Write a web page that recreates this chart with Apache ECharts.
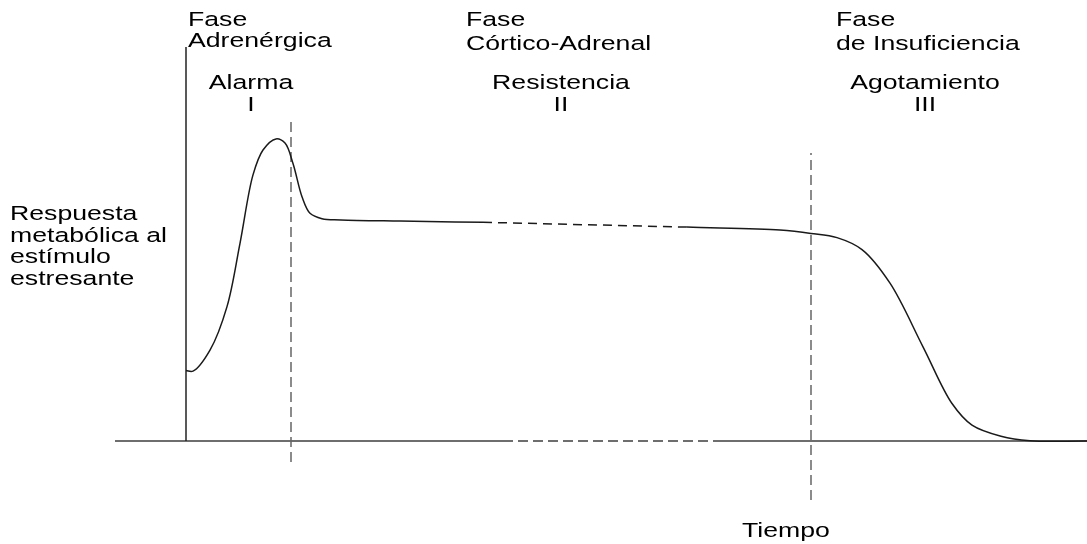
<!DOCTYPE html>
<html>
<head>
<meta charset="utf-8">
<script src="https://cdn.jsdelivr.net/npm/echarts@6/dist/echarts.min.js"></script>
<style>
html,body{margin:0;padding:0;background:#fff;}
#chart{width:1087px;height:544px;}
</style>
</head>
<body>
<div id="chart"></div>
<script>
// ---------- data (time units, response units) ----------
const curveAlarmResistance = [
  [0, 23.5], [0.7, 23.3], [2.4, 30.3], [4.1, 44.8], [5.4, 65.9], [6.7, 88.7],
  [7.7, 97], [9.0, 100.7], [9.9, 99.3], [10.7, 92.5], [11.6, 81.4], [12.4, 75.9],
  [13.6, 74.1], [15.5, 73.7], [21.4, 73.3], [29.7, 72.9]
];
const curveResistanceGap = [[29.7, 72.9], [50.1, 71.3]];
const curveExhaustion = [
  [50.1, 71.3], [59.4, 70.3], [62.5, 69.2], [65.1, 67.8], [67.6, 63.8], [70.4, 52.6],
  [73.7, 31.4], [76.6, 12.5], [78.6, 5.3], [81.5, 1.6], [84.4, 0.1], [90.1, 0]
];
const timeAxisSolidA = [[-7.1, 0], [31.7, 0]];
const timeAxisGap = [[31.7, 0], [53.6, 0]];
const timeAxisSolidB = [[53.6, 0], [90.1, 0]];
const responseAxis = [[0, 0], [0, 131.3]];
const phaseBoundary1 = [[10.5, -7], [10.5, 107]];
const phaseBoundary2 = [[62.5, -19.7], [62.5, 96]];

const phaseTitles = [['Fase', 'Adrenérgica'], ['Fase', 'Córtico-Adrenal'], ['Fase', 'de Insuficiencia']];
const stageNames = ['Alarma', 'Resistencia', 'Agotamiento'];
const stageNumerals = ['I', 'II', 'III'];
const yTitleLines = ['Respuesta', 'metabólica al', 'estímulo', 'estresante'];
const xTitle = 'Tiempo';

// ---------- layout / style ----------
const FONT = '"Liberation Sans", Arial, sans-serif';
const FS = 20.5, SX = 1.3;
function txt(str, x, y, align) {
  return {
    type: 'text', x: x, y: y, scaleX: SX, scaleY: 1, silent: true,
    style: { text: str, fontFamily: FONT, fontSize: FS, fill: '#000',
             align: align || 'left', verticalAlign: 'middle' }
  };
}
const titleLeft = [188, 466, 836];
const titleRow2Y = [41.5, 44, 44];
const stageCenter = [251, 561, 925];

const graphics = [];
phaseTitles.forEach((lines, i) => {
  graphics.push(txt(lines[0], titleLeft[i], 20.5, 'left'));
  graphics.push(txt(lines[1], titleLeft[i], titleRow2Y[i], 'left'));
});
stageNames.forEach((s, i) => {
  graphics.push(txt(s, stageCenter[i], 83, 'center'));
  graphics.push(txt(stageNumerals[i], stageCenter[i], 105, 'center'));
});
const yTitleY = [214.5, 236, 257.8, 279.5];
yTitleLines.forEach((s, i) => graphics.push(txt(s, 10, yTitleY[i], 'left')));
graphics.push(txt(xTitle, 742, 531, 'left'));

function lineSeries(data, color, width, type) {
  return {
    type: 'line', data: data, showSymbol: false, symbol: 'none', silent: true,
    clip: false,
    lineStyle: { color: color, width: width, type: type || 'solid' },
    z: 2
  };
}

// centripetal Catmull-Rom through pixel points -> cubic bezier path
function splinePath(pts) {
  const n = pts.length;
  const refl = (a, b) => [2 * a[0] - b[0], 2 * a[1] - b[1]];
  const sd = (a, b) => Math.sqrt(Math.hypot(a[0] - b[0], a[1] - b[1])) || 1e-6;
  let d = 'M' + pts[0][0] + ',' + pts[0][1];
  for (let i = 0; i < n - 1; i++) {
    const p0 = i > 0 ? pts[i - 1] : refl(pts[0], pts[1]);
    const p1 = pts[i], p2 = pts[i + 1];
    const p3 = i + 2 < n ? pts[i + 2] : refl(pts[n - 1], pts[n - 2]);
    const d1 = sd(p0, p1), d2 = sd(p1, p2), d3 = sd(p2, p3);
    const b1 = [0, 1].map(k => (d1 * d1 * p2[k] - d2 * d2 * p0[k] +
      (2 * d1 * d1 + 3 * d1 * d2 + d2 * d2) * p1[k]) / (3 * d1 * (d1 + d2)));
    const b2 = [0, 1].map(k => (d3 * d3 * p1[k] - d2 * d2 * p3[k] +
      (2 * d3 * d3 + 3 * d3 * d2 + d2 * d2) * p2[k]) / (3 * d3 * (d3 + d2)));
    d += ' C' + b1[0] + ',' + b1[1] + ' ' + b2[0] + ',' + b2[1] + ' ' + p2[0] + ',' + p2[1];
  }
  return d;
}
function curveSeries(points, color, width) {
  return {
    type: 'custom', silent: true, clip: false, z: 3,
    data: [0],
    renderItem: function (params, api) {
      const px = points.map(p => api.coord(p));
      return {
        type: 'path',
        shape: { pathData: splinePath(px) },
        style: { fill: null, stroke: color, lineWidth: width }
      };
    }
  };
}
const DASH = [10, 5];

const option = {
  animation: false,
  backgroundColor: '#fff',
  grid: { left: 115, right: 0, top: 0, bottom: 0 },
  xAxis: { type: 'value', min: -7.1, max: 90.1, show: false },
  yAxis: { type: 'value', min: -34.333, max: 147, show: false },
  series: [
    lineSeries(timeAxisSolidA, '#6e6e6e', 2),
    lineSeries(timeAxisGap, '#6e6e6e', 2, DASH),
    lineSeries(timeAxisSolidB, '#6e6e6e', 2),
    lineSeries(responseAxis, '#222', 1.5),
    lineSeries(phaseBoundary1, '#666', 1.5, DASH),
    lineSeries(phaseBoundary2, '#666', 1.5, DASH),
    curveSeries(curveAlarmResistance, '#1a1a1a', 1.5),
    lineSeries(curveResistanceGap, '#1a1a1a', 1.5, [9, 6]),
    curveSeries(curveExhaustion, '#1a1a1a', 1.5)
  ],
  graphic: graphics
};

const chart = echarts.init(document.getElementById('chart'), null, { renderer: 'canvas' });
chart.setOption(option);
</script>
</body>
</html>
